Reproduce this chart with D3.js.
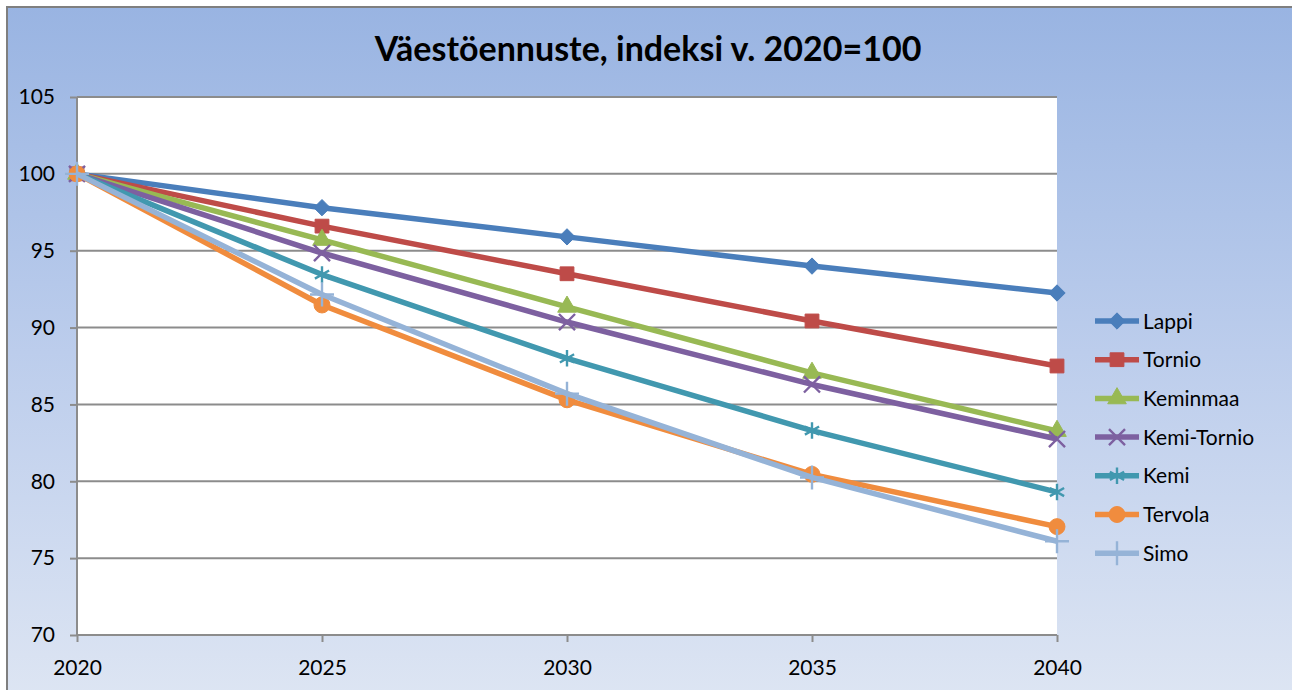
<!DOCTYPE html>
<html>
<head>
<meta charset="utf-8">
<script src="https://cdn.jsdelivr.net/npm/d3@7"></script>
<style>
  body { margin: 0; background: #fff; }
  svg { display: block; font-family: Lato, "Liberation Sans", sans-serif; }
</style>
</head>
<body>
<div id="container"></div>
<script>
// chart data
const years = [2020, 2025, 2030, 2035, 2040];
const lappi = [100, 97.8, 95.9, 94.0, 92.25];
const tornio = [100, 96.6, 93.5, 90.43, 87.5];
const keminmaa = [100, 95.7, 91.35, 87.05, 83.27];
const kemiTornio = [100, 94.85, 90.36, 86.3, 82.75];
const kemi = [100, 93.45, 88.0, 83.3, 79.3];
const tervola = [100, 91.47, 85.3, 80.45, 77.05];
const simo = [100, 92.15, 85.7, 80.25, 76.1];
const yTicks = [70, 75, 80, 85, 90, 95, 100, 105];

const series = [
    { name: 'Lappi', values: lappi, color: '#4a7ebb', symbol: d3.symbolDiamond2, size: 170, fill: true },
    { name: 'Tornio', values: tornio, color: '#be4b48', symbol: d3.symbolSquare, size: 190, fill: true },
    { name: 'Keminmaa', values: keminmaa, color: '#98b954', symbol: d3.symbolTriangle, size: 150, fill: true },
    { name: 'Kemi-Tornio', values: kemiTornio, color: '#7d60a0', symbol: d3.symbolTimes, size: 170, fill: false },
    { name: 'Kemi', values: kemi, color: '#4198af', symbol: d3.symbolAsterisk, size: 190, fill: false },
    { name: 'Tervola', values: tervola, color: '#f08c3e', symbol: d3.symbolCircle, size: 200, fill: true },
    { name: 'Simo', values: simo, color: '#95b3d7', symbol: d3.symbolPlus, size: 190, fill: false }
];

// svg dimensions
const w = 1292;
const h = 690;
const plot = { left: 77, right: 1057, top: 97, bottom: 635 };

const svg = d3.select('#container')
                .append('svg')
                .attr('width', w)
                .attr('height', h);

// background gradient
const grad = svg.append('defs').append('linearGradient')
                .attr('id', 'bg')
                .attr('x1', 0).attr('y1', 0)
                .attr('x2', 0).attr('y2', 1);
grad.append('stop').attr('offset', '0%').attr('stop-color', '#99b4e2');
grad.append('stop').attr('offset', '50%').attr('stop-color', '#bccdec');
grad.append('stop').attr('offset', '100%').attr('stop-color', '#dde5f3');

svg.append('rect')
    .attr('x', 7).attr('y', 7)
    .attr('width', w).attr('height', h)
    .attr('fill', 'url(#bg)')
    .attr('stroke', '#7f7f7f')
    .attr('stroke-width', 2);

// plot area
svg.append('rect')
    .attr('x', plot.left).attr('y', plot.top)
    .attr('width', plot.right - plot.left)
    .attr('height', plot.bottom - plot.top)
    .attr('fill', '#fff');

// title
svg.append('text')
    .attr('x', 648)
    .attr('y', 61)
    .attr('text-anchor', 'middle')
    .attr('font-size', 34)
    .attr('font-weight', 'bold')
    .attr('fill', '#000')
    .text('Väestöennuste, indeksi v. 2020=100');

// scales
const xScale = d3.scaleLinear()
                .domain([2020, 2040])
                .range([plot.left, plot.right]);

const yScale = d3.scaleLinear()
                .domain([70, 105])
                .range([plot.bottom, plot.top]);

// gridlines
svg.append('g')
    .selectAll('line')
    .data(yTicks.filter(d => d > 70))
    .join('line')
    .attr('x1', plot.left).attr('x2', plot.right)
    .attr('y1', d => yScale(d)).attr('y2', d => yScale(d))
    .attr('stroke', '#8c8c8c')
    .attr('stroke-width', 2);

// axes
const yAxis = d3.axisLeft(yScale).tickValues(yTicks).tickSize(7).tickPadding(15);
const xAxis = d3.axisBottom(xScale).tickValues(years).tickFormat(d3.format('d')).tickSize(7).tickPadding(18);

const gy = svg.append('g')
    .attr('transform', `translate(${plot.left}, 0)`)
    .attr('id', 'y-axis')
    .call(yAxis);

const gx = svg.append('g')
    .attr('transform', `translate(0, ${plot.bottom})`)
    .attr('id', 'x-axis')
    .call(xAxis);

[gx, gy].forEach(g => {
    g.select('.domain').attr('stroke', '#8c8c8c').attr('stroke-width', 2);
    g.selectAll('.tick line').attr('stroke', '#8c8c8c').attr('stroke-width', 2);
    g.selectAll('text').attr('font-size', 21).attr('fill', '#000').attr('font-family', 'Lato, sans-serif');
});
gy.select('.domain').attr('d', `M0,${plot.top}V${plot.bottom}`);
gx.select('.domain').attr('d', `M${plot.left},0H${plot.right}`);

// lines
const line = d3.line()
                .x((d, i) => xScale(years[i]))
                .y(d => yScale(d));

const drawSymbol = (g, s, x, y) => {
    g.append('path')
        .attr('d', d3.symbol().type(s.symbol).size(s.size)())
        .attr('transform', `translate(${x},${y})`)
        .attr('fill', s.fill ? s.color : 'none')
        .attr('stroke', s.color)
        .attr('stroke-width', s.fill ? 1 : 2.4);
};

// series drawn in order, Simo last on top
series.forEach(s => {
    const g = svg.append('g');
    g.append('path')
        .datum(s.values)
        .attr('d', line)
        .attr('fill', 'none')
        .attr('stroke', s.color)
        .attr('stroke-width', 5.5)
        .attr('stroke-linejoin', 'round');
    s.values.forEach((v, i) => drawSymbol(g, s, xScale(years[i]), yScale(v)));
});

// legend
const legend = svg.append('g').attr('transform', 'translate(1095, 321)');
series.forEach((s, i) => {
    const row = legend.append('g').attr('transform', `translate(0, ${i * 38.7})`);
    row.append('line')
        .attr('x1', 0).attr('x2', 44)
        .attr('stroke', s.color)
        .attr('stroke-width', 5.5);
    drawSymbol(row, s, 22, 0);
    row.append('text')
        .attr('x', 48)
        .attr('y', 7.5)
        .attr('font-size', 21)
        .attr('fill', '#000')
        .text(s.name);
});
</script>
</body>
</html>
